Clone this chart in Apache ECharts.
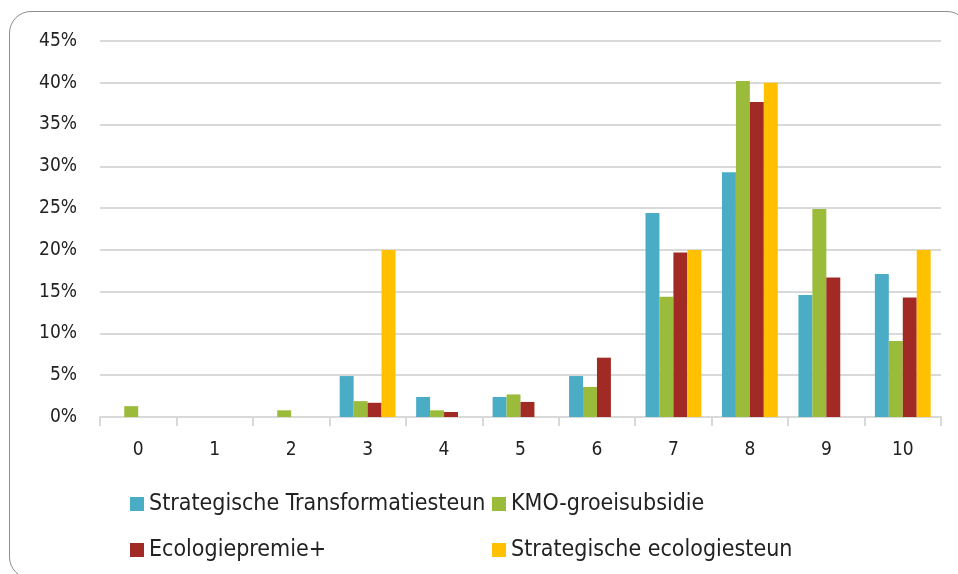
<!DOCTYPE html>
<html>
<head>
<meta charset="utf-8">
<script src="https://cdn.jsdelivr.net/npm/echarts@6/dist/echarts.min.js"></script>
<style>
  html, body { margin: 0; padding: 0; background: #fff; overflow: hidden; }
  #frame {
    position: absolute; left: 9px; top: 11px; width: 960px; height: 568px;
    border: 1px solid #8c8c8c; border-radius: 22px; box-sizing: border-box;
  }
  #chart { position: absolute; left: 0; top: 0; width: 958px; height: 574px; }
</style>
</head>
<body>
<div id="frame"></div>
<div id="chart"></div>
<script>
const categories = ["0", "1", "2", "3", "4", "5", "6", "7", "8", "9", "10"];
const seriesNames = ["Strategische Transformatiesteun", "KMO-groeisubsidie", "Ecologiepremie+", "Strategische ecologiesteun"];
// percentages per score
const transformatie = [0, 0, 0, 4.9, 2.4, 2.4, 4.9, 24.4, 29.3, 14.6, 17.1];
const kmo = [1.3, 0, 0.8, 1.9, 0.8, 2.7, 3.6, 14.4, 40.2, 24.9, 9.1];
const ecologiepremie = [0, 0, 0, 1.7, 0.6, 1.8, 7.1, 19.7, 37.7, 16.7, 14.3];
const ecologiesteun = [0, 0, 0, 20, 0, 0, 0, 20, 40, 0, 20];
const colors = ["#4BACC6", "#9BBB3B", "#A12B24", "#FFC000"];

const font = "'DejaVu Sans Condensed', 'DejaVu Sans', sans-serif";
const chart = echarts.init(document.getElementById("chart"));

const mkSeries = (name, data, i) => ({
  name: name,
  type: "bar",
  data: data,
  barGap: "0%",
  barCategoryGap: "27%",
  itemStyle: { color: colors[i] },
  emphasis: { disabled: true }
});

const legendText = { fontSize: 23, lineHeight: 24, color: "#222", fontFamily: font };

const option = {
  animation: false,
  color: colors,
  textStyle: { fontFamily: font },
  grid: { left: 100, right: 17, top: 41, bottom: 157 },
  legend: [
    {
      data: [seriesNames[0], seriesNames[2]],
      orient: "vertical",
      left: 125, top: 487,
      itemWidth: 14, itemHeight: 14, itemGap: 22,
      icon: "rect",
      textStyle: legendText
    },
    {
      data: [seriesNames[1], seriesNames[3]],
      orient: "vertical",
      left: 487, top: 487,
      itemWidth: 14, itemHeight: 14, itemGap: 22,
      icon: "rect",
      textStyle: legendText
    }
  ],
  xAxis: {
    type: "category",
    data: categories,
    axisLine: { lineStyle: { color: "#d9d9d9", width: 2 } },
    axisTick: { show: true, length: 9, lineStyle: { color: "#d9d9d9", width: 2 } },
    axisLabel: { fontSize: 19, color: "#222", margin: 24, fontFamily: font }
  },
  yAxis: {
    type: "value",
    min: 0, max: 45, interval: 5,
    axisLine: { show: false },
    axisTick: { show: false },
    splitLine: { lineStyle: { color: "#d9d9d9", width: 2 } },
    axisLabel: { formatter: "{value}%", fontSize: 19, color: "#222", margin: 23, fontFamily: font }
  },
  series: [
    mkSeries(seriesNames[0], transformatie, 0),
    mkSeries(seriesNames[1], kmo, 1),
    mkSeries(seriesNames[2], ecologiepremie, 2),
    mkSeries(seriesNames[3], ecologiesteun, 3)
  ]
};
chart.setOption(option);
</script>
</body>
</html>
